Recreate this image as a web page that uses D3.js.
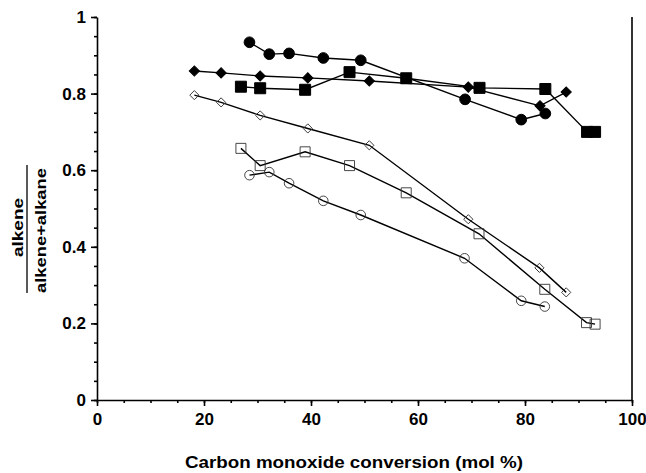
<!DOCTYPE html>
<html>
<head>
<meta charset="utf-8">
<script src="https://cdn.jsdelivr.net/npm/d3@7"></script>
<style>
  body { margin: 0; background: #fff; }
  text { font-family: "Liberation Sans", Arial, sans-serif; font-weight: bold; }
</style>
</head>
<body>
<div id="chart"></div>
<script>
// values: CO conversion (mol %) vs alkene/(alkene+alkane)
var filledCircleX = [28.5, 32.2, 35.9, 42.3, 49.3, 68.8, 79.3, 83.8];
var filledCircleY = [0.934, 0.903, 0.905, 0.893, 0.887, 0.785, 0.732, 0.748];

var filledDiamondX = [18.2, 23.2, 30.5, 39.4, 50.9, 69.4, 82.8, 87.7];
var filledDiamondY = [0.859, 0.854, 0.846, 0.841, 0.833, 0.817, 0.768, 0.804];

var filledSquareX = [26.9, 30.5, 38.9, 47.2, 57.8, 71.5, 83.8, 91.6, 93.1];
var filledSquareY = [0.818, 0.814, 0.810, 0.856, 0.840, 0.815, 0.812, 0.700, 0.700];

var openDiamondX = [18.2, 23.2, 30.5, 39.4, 50.9, 69.4, 82.7, 87.7];
var openDiamondY = [0.796, 0.777, 0.743, 0.709, 0.665, 0.472, 0.345, 0.281];

var openSquareX = [26.9, 30.5, 38.9, 47.2, 57.8, 71.4, 83.7, 91.5, 93.1];
var openSquareY = [0.657, 0.612, 0.648, 0.612, 0.541, 0.434, 0.289, 0.202, 0.198];

var openCircleX = [28.5, 32.2, 35.9, 42.3, 49.3, 68.7, 79.3, 83.7];
var openCircleY = [0.587, 0.595, 0.566, 0.520, 0.483, 0.370, 0.259, 0.244];

var xTicks = [0, 20, 40, 60, 80, 100];
var yTicks = [0, 0.2, 0.4, 0.6, 0.8, 1];
var yTickLabels = ["0", "0.2", "0.4", "0.6", "0.8", "1"];

// diamonds are squares turned by 45 degrees
var series = [
  { xs: openCircleX, ys: openCircleY, shape: d3.symbolCircle, size: 72, rot: 0, filled: false },
  { xs: openSquareX, ys: openSquareY, shape: d3.symbolSquare, size: 100, rot: 0, filled: false },
  { xs: openDiamondX, ys: openDiamondY, shape: d3.symbolSquare, size: 42, rot: 45, filled: false },
  { xs: filledSquareX, ys: filledSquareY, shape: d3.symbolSquare, size: 121, rot: 0, filled: true },
  { xs: filledDiamondX, ys: filledDiamondY, shape: d3.symbolSquare, size: 52, rot: 45, filled: true },
  { xs: filledCircleX, ys: filledCircleY, shape: d3.symbolCircle, size: 90, rot: 0, filled: true }
];

var width = 646, height = 473;
var plotLeft = 97, plotRight = 632, plotTop = 17, plotBottom = 400;

var svg = d3.select("#chart").append("svg")
    .attr("width", width)
    .attr("height", height);

var x = d3.scaleLinear().domain([0, 100]).range([plotLeft, plotRight]);
var y = d3.scaleLinear().domain([0, 1]).range([plotBottom, plotTop]);

// minor ticks first, then the labelled axes over them
svg.append("g")
    .attr("transform", "translate(0," + plotBottom + ")")
    .call(d3.axisBottom(x).tickValues(d3.range(0, 101, 5)).tickSize(3).tickFormat(""))
    .call(function (g) { g.select(".domain").remove(); });
svg.append("g")
    .attr("transform", "translate(" + plotLeft + ",0)")
    .call(d3.axisLeft(y).tickValues(d3.range(0, 1.001, 0.05)).tickSize(3).tickFormat(""))
    .call(function (g) { g.select(".domain").remove(); });

var xAxis = svg.append("g")
    .attr("transform", "translate(0," + plotBottom + ")")
    .call(d3.axisBottom(x).tickValues(xTicks).tickSize(6).tickSizeOuter(0).tickPadding(7));
xAxis.selectAll("text").attr("font-size", 17).attr("fill", "#000");

var yAxis = svg.append("g")
    .attr("transform", "translate(" + plotLeft + ",0)")
    .call(d3.axisLeft(y).tickValues(yTicks).tickSize(6).tickSizeOuter(0).tickPadding(5)
        .tickFormat(function (d, i) { return yTickLabels[i]; }));
yAxis.selectAll("text").attr("font-size", 17).attr("fill", "#000");

svg.selectAll(".domain, .tick line").attr("stroke", "#000").attr("stroke-width", 1.6);

// right frame line
svg.append("line")
    .attr("x1", plotRight).attr("x2", plotRight)
    .attr("y1", plotTop).attr("y2", plotBottom)
    .attr("stroke", "#000").attr("stroke-width", 1.6);

var line = d3.line()
    .x(function (d) { return x(d[0]); })
    .y(function (d) { return y(d[1]); });

series.forEach(function (s) {
  var pts = s.xs.map(function (v, i) { return [v, s.ys[i]]; });
  svg.append("path")
      .datum(pts)
      .attr("d", line)
      .attr("fill", "none")
      .attr("stroke", "#000")
      .attr("stroke-width", 1.4);
});

series.forEach(function (s) {
  var pts = s.xs.map(function (v, i) { return [v, s.ys[i]]; });
  svg.append("g").selectAll("path")
      .data(pts)
      .enter().append("path")
      .attr("transform", function (d) {
        return "translate(" + x(d[0]) + "," + y(d[1]) + ") rotate(" + s.rot + ")";
      })
      .attr("d", d3.symbol().type(s.shape).size(s.size))
      .attr("fill", s.filled ? "#000" : "#fff")
      .attr("fill-opacity", s.filled ? 1 : 0)
      .attr("stroke", s.filled ? "#000" : "#333")
      .attr("stroke-width", s.filled ? 1 : 0.9);
});

// axis titles
svg.append("text")
    .attr("x", 354)
    .attr("y", 468)
    .attr("text-anchor", "middle")
    .attr("font-size", 17)
    .attr("textLength", 338)
    .attr("lengthAdjust", "spacingAndGlyphs")
    .text("Carbon monoxide conversion (mol %)");

var yl = svg.append("g")
    .attr("transform", "translate(27,228) rotate(-90)");
yl.append("text")
    .attr("x", 0.5).attr("y", -4)
    .attr("text-anchor", "middle")
    .attr("font-size", 15)
    .attr("textLength", 59)
    .attr("lengthAdjust", "spacingAndGlyphs")
    .text("alkene");
yl.append("line")
    .attr("x1", -65).attr("x2", 63)
    .attr("y1", 0).attr("y2", 0)
    .attr("stroke", "#000").attr("stroke-width", 1.3);
yl.append("text")
    .attr("x", -2.5).attr("y", 19)
    .attr("text-anchor", "middle")
    .attr("font-size", 15)
    .attr("textLength", 125)
    .attr("lengthAdjust", "spacingAndGlyphs")
    .text("alkene+alkane");
</script>
</body>
</html>
